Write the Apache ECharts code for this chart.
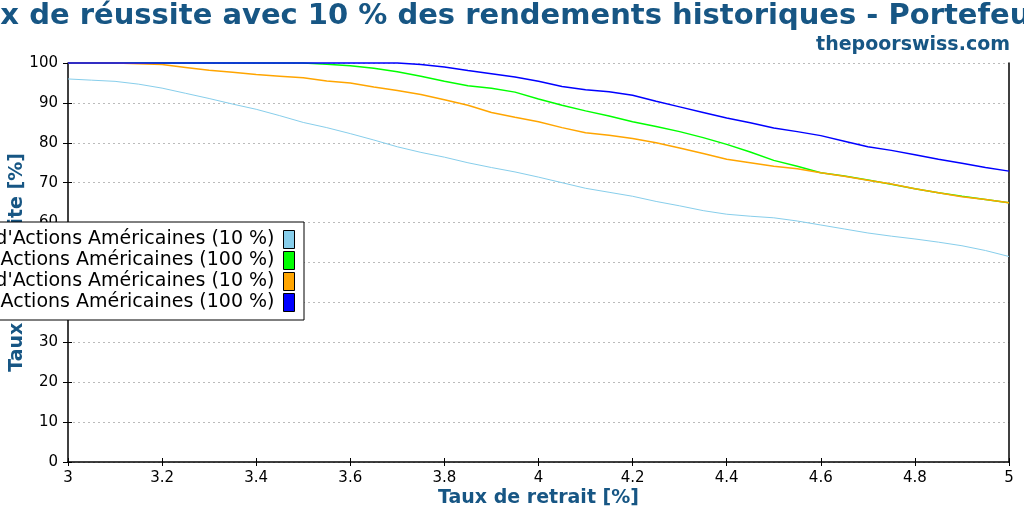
<!DOCTYPE html>
<html>
<head>
<meta charset="utf-8">
<script src="https://cdn.jsdelivr.net/npm/echarts@6/dist/echarts.min.js"></script>
<style>html,body{margin:0;padding:0;background:#fff}#c{width:1024px;height:512px}</style>
</head>
<body>
<div id="c"></div>
<script>
const titleText = "Taux de réussite avec 10 % des rendements historiques - Portefeuille";
const subtitleText = "thepoorswiss.com";
const xAxisName = "Taux de retrait [%]";
const yAxisName = "Taux de réussite [%]";
const seriesNames = [
  "Portefeuille A d'Actions Américaines (10 %)",
  "Portefeuille A d'Actions Américaines (100 %)",
  "Portefeuille B d'Actions Américaines (10 %)",
  "Portefeuille B d'Actions Américaines (100 %)"
];
const seriesColors = ["#87ceeb", "#00ff00", "#ffa500", "#0000ff"];
const withdrawalRates = [3.00,3.05,3.10,3.15,3.20,3.25,3.30,3.35,3.40,3.45,3.50,3.55,3.60,3.65,3.70,3.75,3.80,3.85,3.90,3.95,4.00,4.05,4.10,4.15,4.20,4.25,4.30,4.35,4.40,4.45,4.50,4.55,4.60,4.65,4.70,4.75,4.80,4.85,4.90,4.95,5.00];
const lightBlueValues = [96.0,95.7,95.4,94.7,93.7,92.4,91.1,89.7,88.4,86.8,85.1,83.8,82.3,80.7,79.0,77.6,76.4,75.0,73.8,72.7,71.4,70.0,68.6,67.6,66.6,65.3,64.2,63.0,62.1,61.6,61.2,60.4,59.4,58.4,57.4,56.6,55.9,55.1,54.2,53.0,51.5];
const greenValues = [100,100,100,100,100,100,100,100,100,100,100,99.7,99.3,98.7,97.8,96.7,95.4,94.3,93.7,92.7,91.0,89.4,88.0,86.7,85.3,84.1,82.8,81.3,79.6,77.7,75.6,74.1,72.5,71.7,70.7,69.6,68.5,67.5,66.6,65.8,65.0];
const orangeValues = [100,100,100,99.8,99.6,98.9,98.2,97.7,97.1,96.7,96.3,95.5,95.0,94.0,93.1,92.1,90.8,89.4,87.6,86.4,85.3,83.8,82.5,81.9,81.1,80.0,78.7,77.3,75.9,75.0,74.1,73.5,72.5,71.6,70.6,69.7,68.5,67.5,66.5,65.8,65.0];
const blueValues = [100,100,100,100,100,100,100,100,100,100,100,100,100,100,100,99.6,99.0,98.1,97.3,96.5,95.4,94.1,93.3,92.8,91.9,90.4,89.0,87.6,86.2,85.0,83.7,82.8,81.8,80.4,79.0,78.1,77.0,75.9,74.9,73.8,72.9];
const xTicks = {min: 3, max: 5, interval: 0.2};
const yTicks = {min: 0, max: 100, interval: 10};

const allValues = [lightBlueValues, greenValues, orangeValues, blueValues];
const widths = [1, 1.5, 1.5, 1.5];
const FONT = "DejaVu Sans";
const NAVY = "#175684";

const chart = echarts.init(document.getElementById('c'), null, {renderer: 'canvas'});
const series = allValues.map((vals, i) => ({
  name: seriesNames[i],
  type: 'line',
  xAxisIndex: 0, yAxisIndex: 0,
  data: withdrawalRates.map((x, j) => [x, vals[j]]),
  showSymbol: false,
  symbol: 'none',
  clip: false,
  color: seriesColors[i],
  lineStyle: {color: seriesColors[i], width: widths[i]},
  animation: false,
  z: 2 + i
}));

chart.setOption({
  animation: false,
  backgroundColor: '#fff',
  title: [
    {text: titleText, left: 'center', top: 2, padding: 0,
     textStyle: {fontFamily: FONT, fontSize: 29, fontWeight: 'bold', color: NAVY}},
    {text: subtitleText, right: 14, top: 36, padding: 0,
     textStyle: {fontFamily: FONT, fontSize: 19, fontWeight: 'bold', color: NAVY}}
  ],
  legend: {
    orient: 'vertical',
    right: 720, top: 222,
    align: 'right',
    icon: 'rect',
    itemWidth: 11, itemHeight: 18, itemGap: 2,
    padding: [8, 9, 8, 8],
    backgroundColor: '#fff',
    borderColor: '#000', borderWidth: 1, borderRadius: 0,
    itemStyle: {borderColor: '#000', borderWidth: 1},
    textStyle: {fontFamily: FONT, fontSize: 19, lineHeight: 18, color: '#000', padding: [0, 4, 0, 0]},
    data: seriesNames,
    z: 10
  },
  grid: {left: 68, right: 15, top: 63, bottom: 50, containLabel: false, outerBoundsMode: 'none'},
  xAxis: [
    {type: 'value', position: 'bottom', min: xTicks.min, max: xTicks.max, interval: xTicks.interval,
     name: xAxisName, nameLocation: 'middle', nameGap: 27, nameMoveOverlap: false,
     nameTextStyle: {fontFamily: FONT, fontSize: 19, fontWeight: 'bold', color: NAVY},
     axisLine: {show: true, onZero: false, lineStyle: {color: '#000', width: 1.5}},
     axisTick: {show: true, inside: false, length: 4, lineStyle: {color: '#000', width: 1}},
     axisLabel: {fontFamily: FONT, fontSize: 15, color: '#000', margin: 9},
     splitLine: {show: false}},
    {type: 'value', position: 'bottom', min: xTicks.min, max: xTicks.max, interval: xTicks.interval,
     axisLine: {show: false}, axisLabel: {show: false}, splitLine: {show: false},
     axisTick: {show: true, inside: true, length: 4, lineStyle: {color: '#000', width: 1}}}
  ],
  yAxis: [
    {type: 'value', position: 'left', min: yTicks.min, max: yTicks.max, interval: yTicks.interval,
     name: yAxisName, nameLocation: 'middle', nameGap: 41, nameMoveOverlap: false,
     nameTextStyle: {fontFamily: FONT, fontSize: 19, fontWeight: 'bold', color: NAVY},
     axisLine: {show: true, onZero: false, lineStyle: {color: '#000', width: 1.5}},
     axisTick: {show: true, inside: false, length: 5, lineStyle: {color: '#000', width: 1}},
     axisLabel: {fontFamily: FONT, fontSize: 15, color: '#000', margin: 10},
     splitLine: {show: true, lineStyle: {color: '#bbbbbb', width: 1, type: [2, 3]}}},
    {type: 'value', position: 'left', min: yTicks.min, max: yTicks.max, interval: yTicks.interval,
     axisLine: {show: false}, axisLabel: {show: false}, splitLine: {show: false},
     axisTick: {show: true, inside: true, length: 4, lineStyle: {color: '#000', width: 1}}},
    {type: 'value', position: 'right', min: yTicks.min, max: yTicks.max, interval: yTicks.interval,
     axisLine: {show: true, onZero: false, lineStyle: {color: '#000', width: 1.5}},
     axisTick: {show: false}, axisLabel: {show: false}, splitLine: {show: false}}
  ],
  series: series
});
</script>
</body>
</html>
